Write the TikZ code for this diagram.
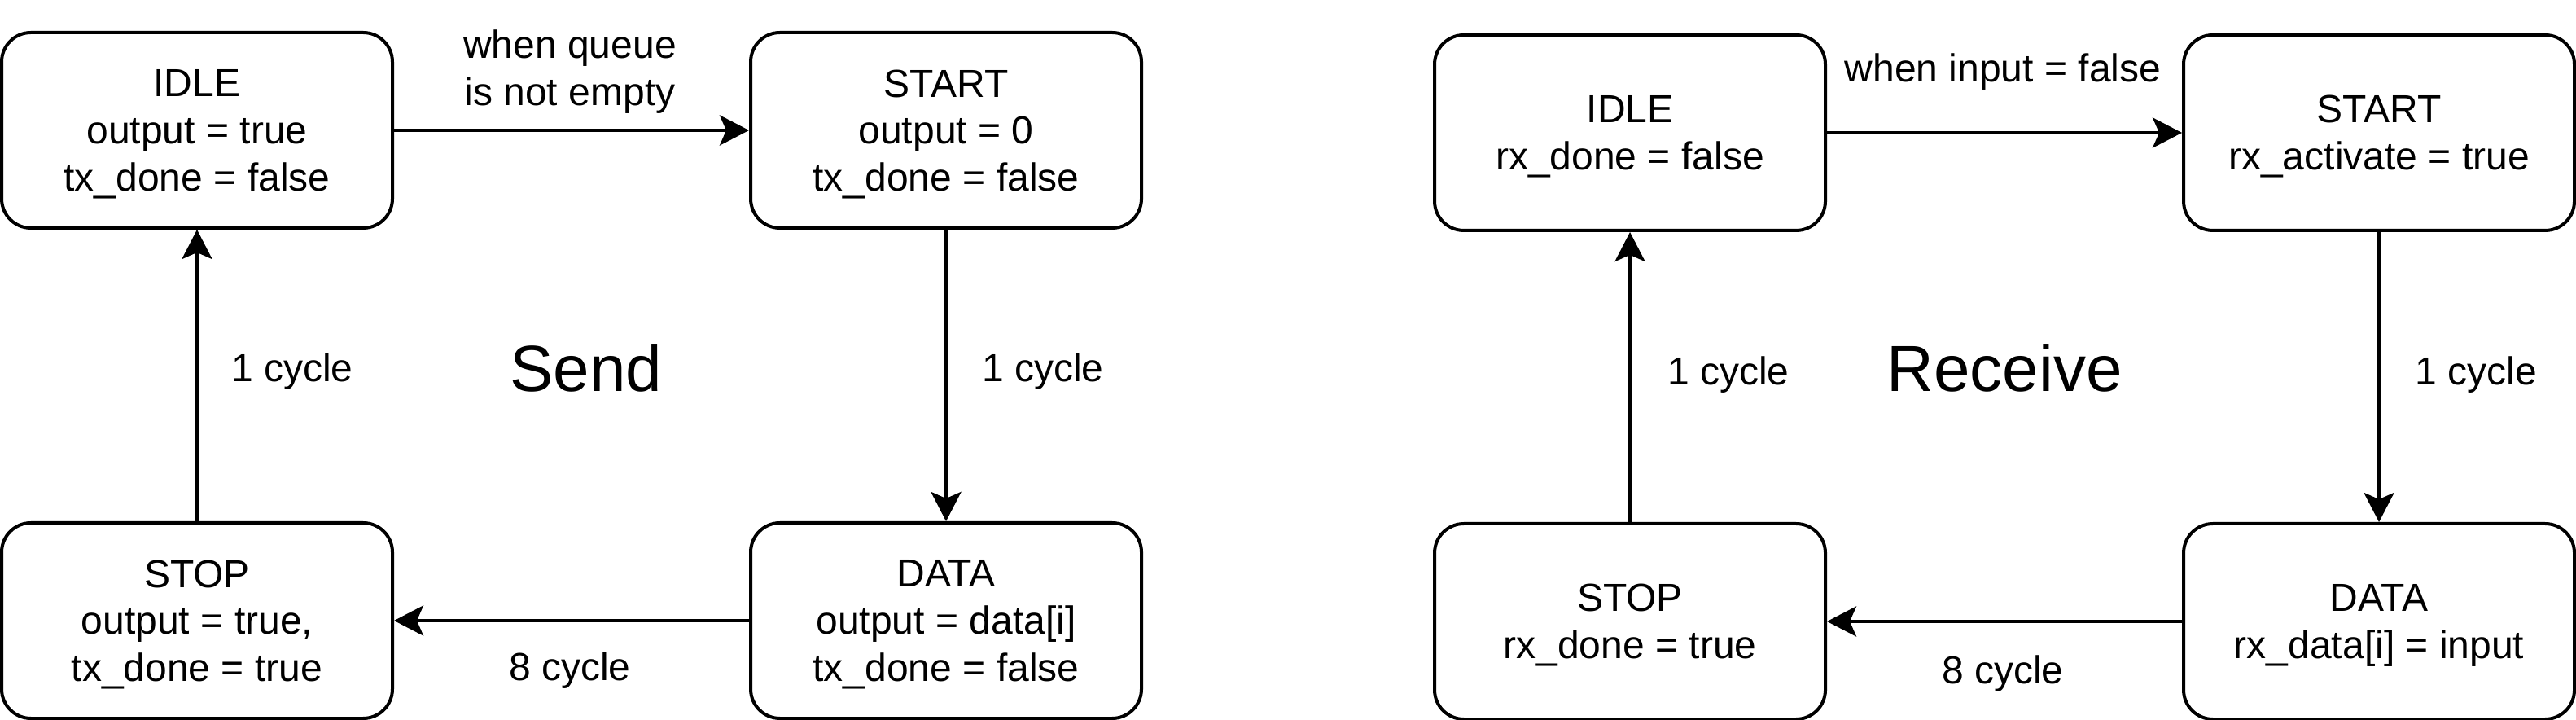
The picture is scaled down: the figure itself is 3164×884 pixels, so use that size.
\documentclass[tikz,border=0pt]{standalone}
\usepackage{fontspec}
\setmainfont{Liberation Sans}
\usetikzlibrary{arrows.meta}
\begin{document}
\begin{tikzpicture}[x=0.25pt,y=-0.25pt,
  state/.style={draw, line width=1pt, rounded corners=9pt, minimum width=120pt, minimum height=60pt,
    align=center, font=\fontsize{12}{14.4}\selectfont, inner sep=0pt, text depth=-1pt},
  conn/.style={line width=1pt, -{Stealth[length=9pt,width=9.25pt,inset=2pt]}},
  lbl/.style={font=\fontsize{12}{14.4}\selectfont, align=center, inner sep=0pt},
  ttl/.style={font=\fontsize{20}{24}\selectfont, inner sep=0pt}]
\useasboundingbox (0,0) rectangle (3164,884);
% Send
\node[state] (sidle) at (242,160) {IDLE\\output = true\\tx\_done = false};
\node[state] (sstart) at (1162,160) {START\\output = 0\\tx\_done = false};
\node[state] (sstop) at (242,762) {STOP\\output = true,\\tx\_done = true};
\node[state] (sdata) at (1162,762) {DATA\\output = data[i]\\tx\_done = false};
\node[ttl] (send) at (720,452) {Send};
\draw[conn] (sidle) -- node[lbl, shift={(-2,-72)}] {when queue\\is not empty} (sstart);
\draw[conn] (sstart) -- node[lbl, shift={(119,-5)}] {1 cycle} (sdata);
\draw[conn] (sdata) -- node[lbl, shift={(-2,61)}] {8 cycle} (sstop);
\draw[conn] (sstop) -- node[lbl, shift={(117,-5)}] {1 cycle} (sidle);
% Receive
\node[state] (ridle) at (2002,163) {IDLE\\rx\_done = false};
\node[state] (rstart) at (2922,163) {START\\rx\_activate = true};
\node[state] (rstop) at (2002,763) {STOP\\rx\_done = true};
\node[state] (rdata) at (2922,763) {DATA\\rx\_data[i] = input};
\node[ttl] (recv) at (2462,452) {Receive};
\draw[conn] (ridle) -- node[lbl, shift={(-2,-75)}] {when input = false} (rstart);
\draw[conn] (rstart) -- node[lbl, shift={(119,-3)}] {1 cycle} (rdata);
\draw[conn] (rdata) -- node[lbl, shift={(-2,64)}] {8 cycle} (rstop);
\draw[conn] (rstop) -- node[lbl, shift={(121,-3)}] {1 cycle} (ridle);
\end{tikzpicture}
\end{document}
